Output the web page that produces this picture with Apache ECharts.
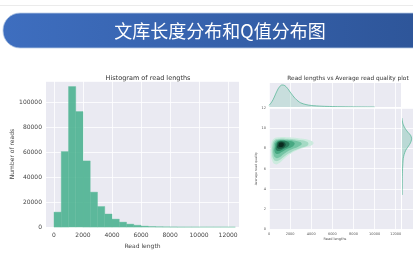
<!DOCTYPE html>
<html>
<head>
<meta charset="utf-8">
<script src="https://cdn.jsdelivr.net/npm/echarts@6/dist/echarts.min.js"></script>
<style>
  html, body { margin: 0; padding: 0; background: #fff; }
  #chart { width: 413px; height: 254px; }
</style>
</head>
<body>
<div id="chart"></div>
<script>
// Histogram of read lengths (bins of 500)
const BIN_WIDTH = 500;
const binStarts = [0, 500, 1000, 1500, 2000, 2500, 3000, 3500, 4000, 4500, 5000, 5500, 6000,
  6500, 7000, 7500, 8000, 8500, 9000, 9500, 10000, 10500, 11000, 11500, 12000];
const readCounts = [12000, 60500, 112500, 92500, 53000, 28000, 16500, 10500, 6400, 4000, 2400, 1500, 800,
  450, 280, 180, 120, 80, 50, 35, 25, 15, 10, 6, 4];
const lengthTicks = [0, 2000, 4000, 6000, 8000, 10000, 12000];

// marginal kde of read lengths (relative density)
const lengthKdeX = [0, 250, 500, 750, 1000, 1250, 1500, 1750, 2000, 2250, 2500, 2750, 3000, 3500,
  4000, 4500, 5000, 6000, 7000, 8000, 9000, 10000];
const lengthKde = [0.08, 0.22, 0.45, 0.72, 0.92, 1.0, 0.97, 0.85, 0.68, 0.52, 0.38, 0.27, 0.19, 0.11,
  0.07, 0.05, 0.035, 0.02, 0.01, 0.005, 0.002, 0.001];

// marginal kde of average read quality (relative density)
const qualityKdeY = [3.4, 4, 5, 5.5, 6, 6.5, 7, 7.4, 7.8, 8.1, 8.4, 8.7, 9.0, 9.3, 9.6, 9.9, 10.2, 10.5, 10.8, 11];
const qualityKde = [0.02, 0.025, 0.03, 0.04, 0.06, 0.09, 0.13, 0.22, 0.38, 0.58, 0.8, 0.95, 1.0, 0.9,
  0.62, 0.38, 0.2, 0.08, 0.02, 0];

// 2d kde contour rings [read length, quality], outer to inner
const kdeContours = [
  [[180, 7.6], [300, 6.8], [550, 6.45], [900, 6.5], [1300, 6.85], [1800, 7.3], [2600, 7.8], [3400, 8.1],
   [4100, 8.35], [4200, 8.6], [3700, 8.85], [2800, 9.0], [1800, 9.1], [900, 9.1], [450, 8.95], [230, 8.5]],
  [[300, 7.5], [420, 6.95], [650, 6.75], [1000, 6.85], [1500, 7.25], [2200, 7.7], [3000, 8.05], [3700, 8.35],
   [3600, 8.65], [2700, 8.85], [1700, 8.95], [900, 8.95], [500, 8.8], [320, 8.3]],
  [[420, 7.5], [600, 7.1], [950, 7.1], [1400, 7.45], [2000, 7.85], [2800, 8.2], [3100, 8.5], [2500, 8.75],
   [1600, 8.85], [900, 8.85], [550, 8.65], [430, 8.1]],
  [[550, 7.65], [800, 7.45], [1200, 7.65], [1700, 7.95], [2300, 8.25], [2400, 8.55], [1800, 8.75], [1100, 8.8],
   [680, 8.6], [560, 8.15]],
  [[680, 7.85], [950, 7.75], [1350, 7.95], [1900, 8.3], [1850, 8.6], [1300, 8.75], [850, 8.65], [690, 8.3]],
  [[800, 8.05], [1100, 7.98], [1500, 8.2], [1550, 8.5], [1200, 8.68], [900, 8.6], [790, 8.35]],
  [[930, 8.2], [1200, 8.15], [1400, 8.35], [1300, 8.55], [1050, 8.55], [920, 8.4]]
];
const kdeColors = ['#cdebdf', '#a4dac4', '#74c4a4', '#47a882', '#2b7f5e', '#17523c', '#0a2a1e'];

const GREEN = '#4CB391';
const BG = '#eaeaf2';
const FONT = 'DejaVu Sans';
const plain = v => String(v);

const chart = echarts.init(document.getElementById('chart'), null, { renderer: 'canvas' });

const tinyAxis = (extra) => Object.assign({
  axisLine: { show: false },
  axisTick: { show: false },
  splitLine: { show: true, lineStyle: { color: '#fff', width: 0.8 } }
}, extra);

chart.setOption({
  animation: false,
  backgroundColor: '#fff',
  title: [
    { text: 'Histogram of read lengths', left: 143, top: 70, textAlign: 'center',
      textStyle: { fontFamily: FONT, fontSize: 6.5, fontWeight: 'normal', color: '#333' } },
    { text: 'Read lengths vs Average read quality plot', left: 343, top: 70, textAlign: 'center',
      textStyle: { fontFamily: FONT, fontSize: 5.8, fontWeight: 'normal', color: '#333' } }
  ],
  graphic: [
    { type: 'rect', shape: { x: 0, y: 5, width: 413, height: 1 }, style: { fill: '#ebebeb' } },
    { type: 'rect', shape: { x: 3, y: 13, width: 440, height: 35, r: 17 },
      style: {
        fill: new echarts.graphic.LinearGradient(0, 0, 1, 0, [
          { offset: 0, color: '#3e6ebf' }, { offset: 1, color: '#2d5497' }
        ]),
        stroke: '#b9cbe6', lineWidth: 0.8
      } },
    { type: 'text', x: 220, y: 31,
      style: { text: '文库长度分布和Q值分布图', fill: '#fff', fontSize: 18,
        fontFamily: 'Noto Sans CJK SC', align: 'center', verticalAlign: 'middle' } }
  ],
  grid: [
    { left: 46, top: 81, width: 193, height: 146.7, backgroundColor: BG, show: true, borderWidth: 0 },
    { left: 269, top: 108, width: 132, height: 121.3, backgroundColor: BG, show: true, borderWidth: 0 },
    { left: 269, top: 83, width: 132, height: 24, backgroundColor: BG, show: true, borderWidth: 0 },
    { left: 402, top: 108, width: 24, height: 121.3, backgroundColor: BG, show: true, borderWidth: 0 }
  ],
  xAxis: [
    tinyAxis({ gridIndex: 0, type: 'value', min: -550, max: 12750,
      axisTick: { show: false, customValues: lengthTicks },
      axisLabel: { customValues: lengthTicks, formatter: plain, fontFamily: FONT, fontSize: 6, color: '#444', margin: 5 },
      name: 'Read length', nameLocation: 'middle', nameGap: 12,
      nameTextStyle: { fontFamily: FONT, fontSize: 6, color: '#444' } }),
    tinyAxis({ gridIndex: 1, type: 'value', min: 0, max: 12500, interval: 2000,
      axisLabel: { formatter: plain, showMaxLabel: false, fontFamily: FONT, fontSize: 3.5, color: '#555', margin: 3 },
      name: 'Read lengths', nameLocation: 'middle', nameGap: 7,
      nameTextStyle: { fontFamily: FONT, fontSize: 3.5, color: '#555' } }),
    tinyAxis({ gridIndex: 2, type: 'value', min: 0, max: 12500, interval: 2000,
      axisLabel: { show: false } }),
    tinyAxis({ gridIndex: 3, type: 'value', min: 0, max: 1.15,
      axisLabel: { show: false }, splitLine: { show: false } })
  ],
  yAxis: [
    tinyAxis({ gridIndex: 0, type: 'value', min: 0, max: 117000, interval: 20000,
      axisLabel: { formatter: plain, showMaxLabel: false, fontFamily: FONT, fontSize: 6, color: '#444', margin: 4 },
      name: 'Number of reads', nameLocation: 'middle', nameGap: 31,
      nameTextStyle: { fontFamily: FONT, fontSize: 6, color: '#444' } }),
    tinyAxis({ gridIndex: 1, type: 'value', min: 0, max: 12, interval: 2,
      axisLabel: { formatter: plain, fontFamily: FONT, fontSize: 3.5, color: '#555', margin: 3 },
      name: 'Average read quality', nameLocation: 'middle', nameGap: 6,
      nameTextStyle: { fontFamily: FONT, fontSize: 3.2, color: '#555' } }),
    tinyAxis({ gridIndex: 2, type: 'value', min: 0, max: 1.09,
      axisLabel: { show: false }, splitLine: { show: false } }),
    tinyAxis({ gridIndex: 3, type: 'value', min: 0, max: 12, interval: 2,
      axisLabel: { show: false } })
  ],
  series: [
    {
      type: 'custom', name: 'histogram', xAxisIndex: 0, yAxisIndex: 0,
      data: binStarts.map((s, i) => [s, readCounts[i]]),
      encode: { x: 0, y: 1 },
      renderItem: (params, api) => {
        const start = api.value(0);
        const p0 = api.coord([start, api.value(1)]);
        const p1 = api.coord([start + BIN_WIDTH, 0]);
        return {
          type: 'rect',
          shape: { x: p0[0], y: p0[1], width: p1[0] - p0[0], height: p1[1] - p0[1] },
          style: { fill: GREEN, opacity: 0.9, stroke: '#62bd9e', lineWidth: 0.4 }
        };
      }
    },
    {
      type: 'custom', name: 'kde2d', xAxisIndex: 1, yAxisIndex: 1, clip: true,
      data: kdeContours.map((ring, i) => [ring[0][0], ring[0][1], i]),
      encode: { x: 0, y: 1 },
      renderItem: (params, api) => {
        const ring = kdeContours[params.dataIndex];
        return {
          type: 'polygon',
          shape: { points: ring.map(p => api.coord(p)), smooth: 0.5 },
          style: { fill: kdeColors[params.dataIndex] }
        };
      }
    },
    {
      type: 'line', name: 'lengthKde', xAxisIndex: 2, yAxisIndex: 2,
      data: lengthKdeX.map((x, i) => [x, lengthKde[i]]),
      smooth: 0.4, showSymbol: false,
      lineStyle: { color: GREEN, width: 0.7 },
      areaStyle: { color: 'rgba(76,179,145,0.3)' }
    },
    {
      type: 'custom', name: 'qualityKde', xAxisIndex: 3, yAxisIndex: 3, clip: true,
      data: [[0, qualityKdeY[0]]],
      encode: { x: 0, y: 1 },
      renderItem: (params, api) => {
        const curve = qualityKdeY.map((q, i) => api.coord([qualityKde[i], q]));
        const start = api.coord([0, qualityKdeY[0]]);
        const end = api.coord([0, qualityKdeY[qualityKdeY.length - 1]]);
        return {
          type: 'group',
          children: [
            { type: 'polygon', shape: { points: [start].concat(curve, [end]), smooth: 0.3 },
              style: { fill: 'rgba(76,179,145,0.3)' } },
            { type: 'polyline', shape: { points: curve, smooth: 0.3 },
              style: { stroke: GREEN, lineWidth: 0.7, fill: null } }
          ]
        };
      }
    }
  ]
});
</script>
</body>
</html>
